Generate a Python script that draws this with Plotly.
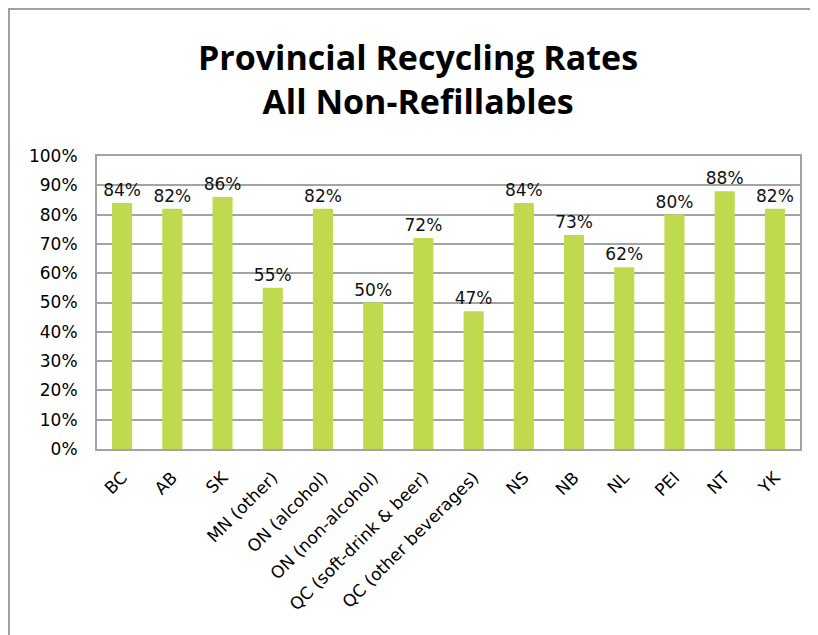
import plotly.graph_objects as go

# page body adds an 8px offset, so the figure is a bit smaller
W, H = 810, 627
ML, MR, MT, MB = 89, 18, 148, 186

categories = ["BC", "AB", "SK", "MN (other)", "ON (alcohol)", "ON (non-alcohol)",
              "QC (soft-drink & beer)", "QC (other beverages)", "NS", "NB", "NL",
              "PEI", "NT", "YK"]
rates = [0.84, 0.82, 0.86, 0.55, 0.82, 0.50, 0.72, 0.47, 0.84, 0.73, 0.62,
         0.80, 0.88, 0.82]
y_ticks = [i / 10 for i in range(11)]

label_font = "DejaVu Sans, sans-serif"
title_font = "Open Sans, sans-serif"
grid_col = "#a3a3a3"

fig = go.Figure()
fig.add_trace(go.Bar(
    x=categories,
    y=rates,
    marker=dict(color="#bfda4f", line=dict(width=0)),
    text=[f"{v:.0%}" for v in rates],
    textposition="outside",
    constraintext="none",
    cliponaxis=False,
    textfont=dict(family=label_font, size=17, color="#111111"),
))

pw = W - ML - MR
ph = H - MT - MB
def px_x(p):
    return (p - ML) / pw
def px_y(p):
    return (H - MB - p) / ph

fig.update_layout(
    width=W, height=H,
    margin=dict(l=ML, r=MR, t=MT, b=MB),
    paper_bgcolor="white",
    plot_bgcolor="white",
    showlegend=False,
    bargap=0.6,
    title=dict(
        text="<b>Provincial Recycling Rates<br>All Non-Refillables</b>",
        x=410 / W, xanchor="center",
        y=1 - 62 / H, yanchor="middle",
        font=dict(family=title_font, size=34, color="black"),
    ),
    xaxis=dict(
        tickangle=-45,
        tickfont=dict(family=label_font, size=17, color="black"),
        ticklabelstandoff=10,
        showline=True, linecolor=grid_col, linewidth=2, mirror=True,
        ticks="", showgrid=False,
    ),
    yaxis=dict(
        range=[0, 1],
        tickvals=y_ticks,
        tickformat=".0%",
        tickfont=dict(family=label_font, size=17, color="black"),
        ticklabelstandoff=14,
        showgrid=True, gridcolor=grid_col, gridwidth=2,
        showline=True, linecolor=grid_col, linewidth=2, mirror=True,
        ticks="", zeroline=False,
    ),
    shapes=[
        dict(type="line", xref="paper", yref="paper",
             x0=px_x(1), x1=px_x(1), y0=px_y(0), y1=px_y(H + 5),
             line=dict(color="#a0a0a0", width=2)),
        dict(type="line", xref="paper", yref="paper",
             x0=px_x(0), x1=px_x(W + 5), y0=px_y(1), y1=px_y(1),
             line=dict(color="#a0a0a0", width=2)),
    ],
)

fig.write_html("out.html")
